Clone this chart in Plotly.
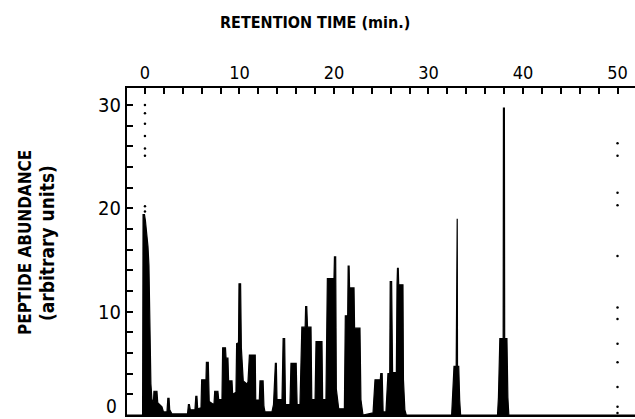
import plotly.graph_objects as go

# Retention time (min) and peptide abundance (arbitrary units)
retention_time = [
    -1.9, -0.25, -0.2, -0.05, 0.05, 0.16, 0.32, 0.42, 0.5, 0.58, 0.63, 0.74, 0.9, 0.95, 1.27, 1.35,
    1.59, 1.8, 1.96, 2.33, 2.42, 2.55, 2.62, 2.86, 4.5, 4.6, 4.7, 4.8, 5.29, 5.38, 5.5, 5.58,
    5.93, 6.0, 6.35, 6.42, 6.5, 6.7, 6.8, 7.3, 7.38, 7.72, 7.8, 8.15, 8.22, 8.52, 8.58, 8.78,
    8.85, 9.21, 9.28, 9.63, 9.7, 9.9, 9.95, 10.12, 10.2, 10.4, 10.79, 10.9, 11.05, 11.67, 11.72,
    12.1, 12.17, 12.5, 12.59, 12.7, 13.44, 13.6, 13.8, 13.9, 13.97, 14.5, 14.62, 14.78, 14.87,
    15.34, 15.45, 16.0, 16.1, 16.4, 16.6, 16.95, 17.0, 17.12, 17.2, 17.57, 17.65, 18.0, 18.1,
    18.73, 18.8, 19.15, 19.3, 20.0, 20.05, 20.18, 20.25, 20.5, 21.1, 21.2, 21.45, 21.5, 21.6,
    21.65, 22.12, 22.18, 22.75, 22.85, 23.07, 24.13, 24.34, 24.9, 24.95, 25.1, 25.2, 25.5,
    25.71, 25.9, 25.95, 26.1, 26.2, 26.6, 26.67, 26.72, 26.8, 26.85, 27.3, 27.35, 27.5, 27.65,
    32.45, 32.55, 32.7, 32.93, 32.96, 33.04, 33.07, 33.2, 33.3, 33.4,
    37.3, 37.4, 37.55, 37.9, 37.93, 38.03, 38.06, 38.3, 38.4, 38.5, 51.9,
]
abundance = [
    0, 0, 19.4, 19.4, 18.8, 17.8, 16.3, 14.5, 10, 6.3, 3, 1.5, 1.3, 2.3, 2.3, 1.2,
    1.0, 0.8, 0.3, 0.3, 1.6, 1.6, 0.5, 0.1, 0.1, 1.0, 1.0, 0.5, 0.5, 1.8, 1.8, 0.6,
    0.7, 3.4, 3.4, 2.0, 5.1, 5.1, 1.3, 1.0, 2.3, 2.3, 1.5, 1.5, 6.5, 6.5, 5.5, 5.5,
    3.3, 3.3, 2.0, 2.2, 6.9, 7.0, 12.7, 12.7, 6.5, 3.3, 3.0, 3.2, 5.8, 5.8, 1.45,
    1.45, 3.3, 3.3, 0.8, 0.3, 0.3, 1.0, 5.0, 5.0, 1.5, 1.5, 7.4, 7.4, 1.0,
    1.0, 5.0, 5.0, 1.0, 1.0, 8.5, 8.5, 10.5, 10.5, 8.5, 8.5, 1.5, 1.5, 7.1,
    7.1, 1.5, 1.5, 13.2, 13.2, 15.3, 15.3, 2.5, 0.6, 0.6, 9.6, 9.6, 14.4, 14.4,
    12.3, 12.3, 8.4, 8.4, 1.5, 0, 0.2, 3.4, 3.4, 4.0, 4.0, 0.3, 0.3,
    4.0, 4.0, 12.9, 12.9, 4.1, 4.1, 12.6, 14.2, 14.2, 12.6, 12.6, 3.4, 0.5, 0,
    0, 1.45, 4.7, 4.7, 19.0, 19.0, 4.7, 4.7, 1.45, 0,
    0, 1.7, 7.4, 7.4, 29.7, 29.7, 7.4, 7.4, 1.7, 0, 0,
]

# Dotted marker columns
dots_x0 = [0, 0, 0, 0, 0, 0, 0, 0]
dots_y0 = [30.0, 29.2, 28.2, 27.0, 25.8, 25.1, 20.2, 19.7]
dots_x50 = [50] * 12
dots_y50 = [26.3, 25.1, 21.5, 20.3, 15.4, 10.4, 9.3, 6.9, 5.1, 2.7, 0.8, 0.2]

x_tick_vals = [0, 10, 20, 30, 40, 50]
y_tick_vals = [0, 10, 20, 30]
y_tick_text = ["", "10", "20", "30"]  # "0" is drawn as an annotation to keep it on-page

FONT = "DejaVu Sans Condensed"
W, H = 635, 419
ML, MR, MT, MB = 127, 0, 88, 4
PW, PH = W - ML - MR, H - MT - MB


def px_to_paper(px, py):
    return (px - ML) / PW, (H - MB - py) / PH


fig = go.Figure()
fig.add_trace(go.Scatter(
    x=retention_time, y=abundance, mode="lines",
    line=dict(color="black", width=1.2), fill="tozeroy", fillcolor="black",
    hoverinfo="skip", showlegend=False,
))
fig.add_trace(go.Scatter(
    x=dots_x0 + dots_x50, y=dots_y0 + dots_y50, mode="markers",
    marker=dict(color="black", size=2.5), showlegend=False, hoverinfo="skip",
))

annots = []
for text, (px, py), ang, size in [
    ("RETENTION TIME (min.)", (315, 22), 0, 16),
    ("PEPTIDE ABUNDANCE", (25, 243), -90, 17),
    ("(arbitrary units)", (47, 243), -90, 19),
]:
    ax, ay = px_to_paper(px, py)
    annots.append(dict(text=text, x=ax, y=ay, xref="paper", yref="paper",
                       xanchor="center", yanchor="middle", showarrow=False,
                       textangle=ang, font=dict(size=size, weight="bold")))
# zero label of the y axis
zx, zy = px_to_paper(118, 418)
annots.append(dict(text="0", x=zx, y=zy, xref="paper", yref="paper",
                   xanchor="right", yanchor="bottom", showarrow=False,
                   borderpad=0, font=dict(size=19)))

fig.update_layout(
    width=W, height=H,
    margin=dict(l=ML, r=MR, t=MT, b=MB),
    paper_bgcolor="white", plot_bgcolor="white",
    font=dict(family=FONT, color="black", size=17),
    annotations=annots,
)

fig.update_xaxes(
    side="top", range=[-1.9, 51.85], tickvals=x_tick_vals,
    ticks="inside", ticklen=6, tickwidth=1.5, tickcolor="black",
    minor=dict(dtick=2, tick0=0, ticks="inside", ticklen=6, tickwidth=1.5, tickcolor="black"),
    showline=True, linecolor="black", linewidth=2, mirror=True,
    showgrid=False, zeroline=False, tickfont=dict(size=18), automargin=False,
    ticklabeloverflow="allow",
)
fig.update_yaxes(
    range=[0, 31.65], tickvals=y_tick_vals, ticktext=y_tick_text,
    ticks="inside", ticklen=6, tickwidth=1.5, tickcolor="black",
    minor=dict(dtick=2, tick0=0, ticks="inside", ticklen=6, tickwidth=1.5, tickcolor="black"),
    showline=True, linecolor="black", linewidth=2,
    showgrid=False, zeroline=False, tickfont=dict(size=20), automargin=False,
    ticklabeloverflow="allow",
)

fig.write_html(
    "out.html",
    config={"displayModeBar": False},
    post_script="document.body.style.margin='0';document.body.style.overflow='hidden';",
)
